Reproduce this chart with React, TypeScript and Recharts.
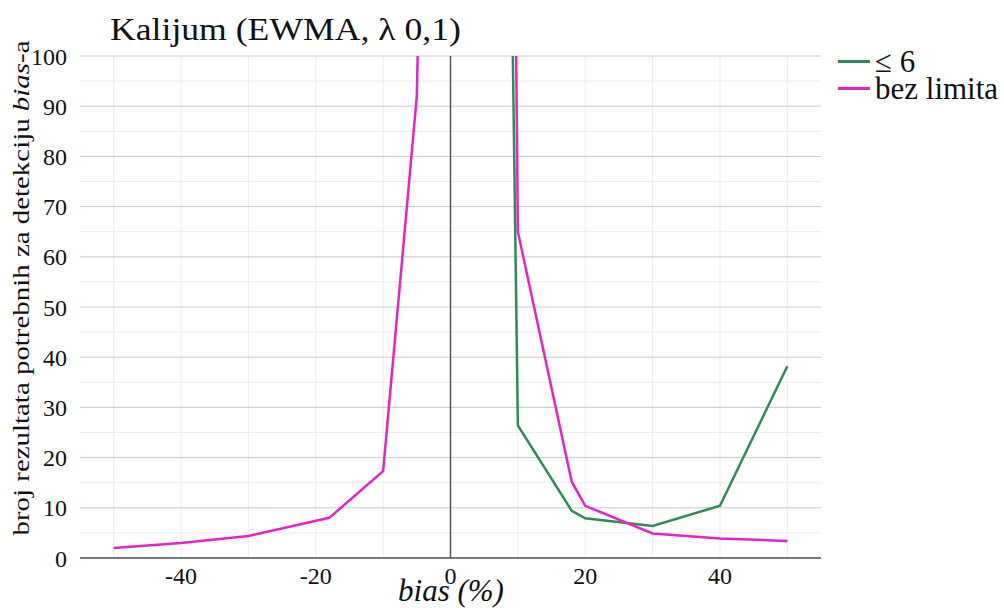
import { LineChart, Line, XAxis, YAxis, CartesianGrid, ReferenceLine } from "recharts";

// bias (%) na x osi
const biasPct = [-50, -40, -30, -18, -10, -5, 5, 10, 18, 20, 30, 40, 50];
// "≤ 6" – nema vrijednosti lijevo od nule
const limit6 = [null, null, null, null, null, null, 520, 26.4, 9.4, 7.9, 6.4, 10.4, 38.2];
// "bez limita"
const noLimit = [2, 3, 4.4, 8, 17.3, 92, 760, 65, 15.2, 10.4, 4.9, 3.9, 3.4];

const xTicks = [-40, -20, 0, 20, 40];
const yTicks = [0, 10, 20, 30, 40, 50, 60, 70, 80, 90, 100];
const yMinor = [5, 15, 25, 35, 45, 55, 65, 75, 85, 95];
const xGrid = [-50, -40, -30, -20, -10, 10, 20, 30, 40, 50];

const GREEN = "#2e8b57";
const PINK = "#e424c8";
const FONT = '"Liberation Serif", Tinos, "Nimbus Roman", "DejaVu Serif", serif';

const data = biasPct.map((b, i) => ({ bias: b, lim6: limit6[i], none: noLimit[i] }));

const legendItems = [
  { label: "≤ 6", color: GREEN },
  { label: "bez limita", color: PINK },
];

export default function App() {
  return (
    <div style={{ position: "absolute", left: 0, top: 0, width: 1004, height: 608, background: "#fff" }}>
      <div
        style={{
          position: "absolute",
          left: 110,
          top: 12,
          fontFamily: FONT,
          fontSize: 31,
          color: "#111",
          whiteSpace: "nowrap",
          transform: "scaleX(1.15)",
          transformOrigin: "left top",
        }}
      >
        Kalijum (EWMA, λ 0,1)
      </div>
      <div
        style={{
          position: "absolute",
          left: 838,
          top: 48,
          fontFamily: FONT,
          fontSize: 31,
          color: "#111",
          lineHeight: "27px",
        }}
      >
        {legendItems.map((it) => (
          <div key={it.label} style={{ display: "flex", alignItems: "center", whiteSpace: "nowrap" }}>
            <span style={{ display: "inline-block", width: 32, height: 2.5, background: it.color, marginRight: 5 }} />
            <span>{it.label}</span>
          </div>
        ))}
      </div>
      <LineChart
        width={1004}
        height={608}
        data={data}
        margin={{ top: 56, right: 183, bottom: 0, left: 0 }}
      >
        <CartesianGrid stroke="#ececec" horizontalValues={yMinor} verticalValues={xGrid} />
        <CartesianGrid stroke="#c9c9c9" horizontalValues={yTicks} vertical={false} />
        <XAxis
          dataKey="bias"
          type="number"
          domain={[-55, 55]}
          ticks={xTicks}
          height={50}
          axisLine={{ stroke: "#555", strokeWidth: 1.5 }}
          tickLine={false}
          tickMargin={3}
          tick={{ fill: "#111", fontSize: 24, fontFamily: FONT }}
          label={{
            content: () => (
              <text
                x={451}
                y={601}
                textAnchor="middle"
                fontFamily={FONT}
                fontSize={31}
                fontStyle="italic"
                fill="#111"
              >
                bias (%)
              </text>
            ),
          }}
        />
        <YAxis
          type="number"
          domain={[0, 100]}
          ticks={yTicks}
          allowDataOverflow
          width={80}
          axisLine={false}
          tickLine={false}
          tickMargin={7}
          tick={{ fill: "#111", fontSize: 24, fontFamily: FONT }}
          label={{
            content: () => (
              <text
                x={21}
                y={288}
                transform="rotate(-90 21 288)"
                textAnchor="middle"
                dominantBaseline="central"
                fontFamily={FONT}
                fontSize={24}
                textLength={495}
                lengthAdjust="spacingAndGlyphs"
                fill="#111"
              >
                broj rezultata potrebnih za detekciju <tspan fontStyle="italic">bias</tspan>-a
              </text>
            ),
          }}
        />
        <ReferenceLine x={0} stroke="#555" strokeWidth={1.5} />
        <Line
          dataKey="lim6"
          name="≤ 6"
          type="linear"
          stroke={GREEN}
          strokeWidth={2.5}
          dot={false}
          isAnimationActive={false}
        />
        <Line
          dataKey="none"
          name="bez limita"
          type="linear"
          stroke={PINK}
          strokeWidth={2.5}
          dot={false}
          isAnimationActive={false}
        />
      </LineChart>
    </div>
  );
}
